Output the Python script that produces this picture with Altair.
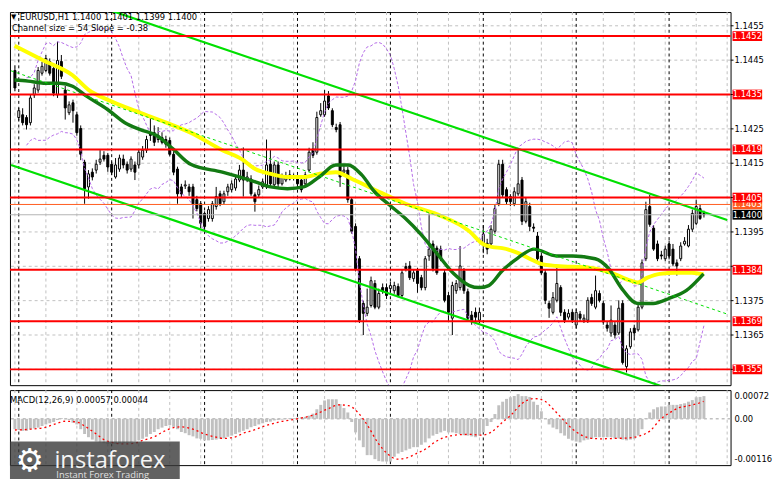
import altair as alt
import pandas as pd

# ---------------- data ----------------
open_ = [
1.14420,1.14283,1.14291,1.14283,1.14268,1.14349,1.14363,1.14412,1.14420,1.14446,
1.14426,1.14349,1.14446,1.14363,1.14297,1.14326,1.14291,1.14251,1.14153,1.14081,
1.14124,1.14130,1.14153,1.14173,1.14173,1.14147,1.14110,1.14133,1.14162,1.14147,
1.14133,1.14145,1.14145,1.14168,1.14188,1.14239,1.14239,1.14219,1.14225,1.14219,
1.14216,1.14176,1.14133,1.14081,1.14084,1.14081,1.14081,1.14044,1.14032,1.14004,
1.13989,1.13989,1.14024,1.14061,1.14038,1.14067,1.14073,1.14078,1.14101,1.14130,
1.14104,1.14104,1.14058,1.14058,1.14081,1.14081,1.14147,1.14087,1.14145,1.14090,
1.14101,1.14104,1.14110,1.14104,1.14101,1.14090,1.14130,1.14191,1.14182,1.14291,
1.14291,1.14346,1.14303,1.14254,1.14262,1.14124,1.14130,1.14044,1.13966,1.13872,
1.13742,1.13713,1.13736,1.13800,1.13731,1.13788,1.13788,1.13785,1.13779,1.13791,
1.13765,1.13849,1.13851,1.13814,1.13837,1.13817,1.13788,1.13880,1.13915,1.13903,
1.13900,1.13831,1.13765,1.13699,1.13779,1.13788,1.13837,1.13776,1.13708,1.13716,
1.13693,1.13915,1.13917,1.13915,1.13952,1.14032,1.14147,1.14073,1.14053,1.14032,
1.14061,1.14101,1.13981,1.14024,1.13964,1.13938,1.13880,1.13831,1.13742,1.13716,
1.13751,1.13788,1.13716,1.13702,1.13716,1.13679,1.13711,1.13693,1.13693,1.13759,
1.13731,1.13771,1.13742,1.13679,1.13656,1.13679,1.13656,1.13742,1.13558,1.13616,
1.13670,1.13665,1.13731,1.13872,1.14024,1.13961,1.13915,1.13883,1.13872,1.13915,
1.13900,1.13860,1.13872,1.13915,1.13909,1.13958,1.13975,1.14018,1.14004]
high = [
1.14435,1.14311,1.14310,1.14290,1.14350,1.14380,1.14430,1.14445,1.14465,1.14455,
1.14435,1.14504,1.14465,1.14375,1.14330,1.14335,1.14300,1.14260,1.14160,1.14130,
1.14135,1.14160,1.14188,1.14185,1.14180,1.14155,1.14165,1.14175,1.14175,1.14155,
1.14170,1.14155,1.14190,1.14200,1.14230,1.14283,1.14260,1.14255,1.14240,1.14230,
1.14225,1.14185,1.14140,1.14090,1.14100,1.14090,1.14090,1.14055,1.14040,1.14010,
1.14025,1.14040,1.14081,1.14070,1.14070,1.14090,1.14100,1.14115,1.14145,1.14196,
1.14125,1.14115,1.14065,1.14085,1.14105,1.14219,1.14191,1.14155,1.14155,1.14120,
1.14125,1.14130,1.14120,1.14115,1.14110,1.14125,1.14195,1.14211,1.14300,1.14325,
1.14363,1.14360,1.14310,1.14265,1.14270,1.14145,1.14140,1.14050,1.13975,1.13880,
1.13750,1.13785,1.13820,1.13810,1.13785,1.13800,1.13800,1.13805,1.13805,1.13800,
1.13840,1.13860,1.13865,1.13840,1.13845,1.13825,1.13880,1.14004,1.13925,1.13910,
1.13910,1.13840,1.13775,1.13805,1.13810,1.13909,1.13845,1.13785,1.13720,1.13730,
1.13730,1.13970,1.13930,1.13970,1.14030,1.14160,1.14160,1.14080,1.14060,1.14080,
1.14191,1.14110,1.14050,1.14035,1.13975,1.13950,1.13890,1.13840,1.13750,1.13775,
1.13851,1.13795,1.13725,1.13725,1.13725,1.13725,1.13720,1.13710,1.13760,1.13770,
1.13823,1.13780,1.13750,1.13690,1.13736,1.13690,1.13751,1.13751,1.13620,1.13670,
1.13680,1.13740,1.13870,1.14038,1.14058,1.13970,1.13925,1.13895,1.13910,1.13925,
1.13915,1.13870,1.13920,1.13935,1.13970,1.14015,1.14044,1.14030,1.14012]
low = [
1.14360,1.14274,1.14260,1.14248,1.14260,1.14340,1.14355,1.14405,1.14415,1.14405,
1.14345,1.14340,1.14395,1.14277,1.14290,1.14268,1.14230,1.14159,1.14032,1.14047,
1.14100,1.14120,1.14145,1.14155,1.14125,1.14115,1.14105,1.14125,1.14135,1.14120,
1.14125,1.14101,1.14135,1.14160,1.14180,1.14215,1.14200,1.14210,1.14205,1.14195,
1.14170,1.14115,1.14032,1.14050,1.14075,1.14055,1.13989,1.14010,1.13961,1.13955,
1.13980,1.13980,1.14015,1.14025,1.14030,1.14055,1.14065,1.14070,1.14095,1.14053,
1.14095,1.14055,1.14009,1.14050,1.14075,1.14075,1.14080,1.14080,1.14080,1.14085,
1.14095,1.14100,1.14100,1.14080,1.14065,1.14085,1.14125,1.14165,1.14175,1.14285,
1.14285,1.14305,1.14255,1.14240,1.14081,1.14115,1.14035,1.13945,1.13835,1.13685,
1.13650,1.13705,1.13730,1.13725,1.13725,1.13770,1.13755,1.13775,1.13770,1.13760,
1.13760,1.13835,1.13810,1.13805,1.13773,1.13780,1.13780,1.13866,1.13835,1.13825,
1.13865,1.13745,1.13688,1.13650,1.13770,1.13780,1.13770,1.13690,1.13680,1.13690,
1.13685,1.13888,1.13885,1.13905,1.13945,1.14025,1.14050,1.14030,1.14025,1.14025,
1.14055,1.13970,1.13975,1.13952,1.13950,1.13865,1.13825,1.13740,1.13700,1.13710,
1.13745,1.13705,1.13685,1.13695,1.13685,1.13670,1.13690,1.13685,1.13685,1.13735,
1.13725,1.13745,1.13680,1.13660,1.13645,1.13640,1.13650,1.13564,1.13541,1.13610,
1.13635,1.13660,1.13725,1.13865,1.13965,1.13895,1.13865,1.13870,1.13865,1.13870,
1.13850,1.13823,1.13865,1.13910,1.13905,1.13950,1.13970,1.13985,1.13992]
close = [
1.14369,1.14303,1.14268,1.14262,1.14340,1.14369,1.14420,1.14432,1.14455,1.14412,
1.14354,1.14449,1.14403,1.14311,1.14320,1.14303,1.14239,1.14176,1.14076,1.14119,
1.14110,1.14147,1.14162,1.14162,1.14139,1.14124,1.14145,1.14165,1.14145,1.14130,
1.14162,1.14124,1.14182,1.14188,1.14219,1.14231,1.14211,1.14231,1.14211,1.14205,
1.14176,1.14124,1.14061,1.14061,1.14087,1.14067,1.14032,1.14018,1.13975,1.13966,
1.14015,1.14032,1.14053,1.14032,1.14061,1.14081,1.14090,1.14104,1.14130,1.14101,
1.14110,1.14061,1.14038,1.14073,1.14096,1.14145,1.14090,1.14145,1.14090,1.14110,
1.14110,1.14116,1.14112,1.14090,1.14073,1.14116,1.14182,1.14173,1.14283,1.14303,
1.14331,1.14311,1.14262,1.14248,1.14110,1.14130,1.14044,1.13952,1.13843,1.13693,
1.13713,1.13731,1.13808,1.13731,1.13771,1.13779,1.13765,1.13794,1.13794,1.13765,
1.13831,1.13843,1.13817,1.13831,1.13800,1.13788,1.13872,1.13900,1.13843,1.13831,
1.13872,1.13751,1.13716,1.13794,1.13800,1.13851,1.13779,1.13699,1.13693,1.13702,
1.13716,1.13943,1.13900,1.13958,1.14018,1.14147,1.14058,1.14038,1.14038,1.14067,
1.14090,1.13981,1.14038,1.13966,1.13961,1.13872,1.13831,1.13751,1.13728,1.13759,
1.13800,1.13716,1.13693,1.13713,1.13693,1.13716,1.13699,1.13699,1.13751,1.13742,
1.13779,1.13751,1.13688,1.13670,1.13693,1.13650,1.13728,1.13570,1.13610,1.13659,
1.13656,1.13731,1.13860,1.14015,1.13972,1.13900,1.13872,1.13880,1.13900,1.13880,
1.13857,1.13851,1.13909,1.13923,1.13958,1.14004,1.14024,1.13989,1.14000]

macd_hist = [
-0.00026,-0.00028,-0.00030,-0.00030,-0.00026,-0.00024,-0.00022,-0.00018,-0.00014,-0.00011,
-0.00008,-0.00003,0.00002,-0.00001,-0.00003,-0.00010,-0.00014,-0.00026,-0.00038,-0.00046,
-0.00052,-0.00057,-0.00059,-0.00061,-0.00063,-0.00063,-0.00063,-0.00062,-0.00061,-0.00060,
-0.00059,-0.00057,-0.00054,-0.00050,-0.00045,-0.00038,-0.00033,-0.00026,-0.00022,-0.00018,
-0.00016,-0.00020,-0.00026,-0.00033,-0.00036,-0.00041,-0.00044,-0.00049,-0.00050,-0.00054,
-0.00054,-0.00053,-0.00052,-0.00050,-0.00049,-0.00045,-0.00042,-0.00038,-0.00034,-0.00030,
-0.00026,-0.00021,-0.00018,-0.00014,-0.00011,-0.00008,-0.00007,-0.00004,-0.00003,-0.00002,
0.00001,0.00002,0.00002,0.00003,0.00004,0.00005,0.00008,0.00013,0.00024,0.00035,
0.00046,0.00049,0.00049,0.00049,0.00037,0.00027,0.00016,-0.00008,-0.00034,-0.00054,
-0.00071,-0.00091,-0.00091,-0.00101,-0.00106,-0.00107,-0.00107,-0.00107,-0.00095,-0.00087,
-0.00083,-0.00079,-0.00075,-0.00071,-0.00071,-0.00065,-0.00059,-0.00049,-0.00042,-0.00038,
-0.00034,-0.00030,-0.00034,-0.00034,-0.00036,-0.00038,-0.00041,-0.00042,-0.00044,-0.00046,
-0.00042,-0.00034,-0.00018,-0.00008,0.00012,0.00034,0.00043,0.00050,0.00054,0.00057,
0.00062,0.00057,0.00057,0.00055,0.00043,0.00035,0.00019,0.00002,-0.00014,-0.00022,
-0.00026,-0.00036,-0.00042,-0.00050,-0.00054,-0.00057,-0.00059,-0.00054,-0.00052,-0.00050,
-0.00046,-0.00046,-0.00046,-0.00046,-0.00046,-0.00049,-0.00049,-0.00052,-0.00054,-0.00052,
-0.00050,-0.00042,-0.00026,0.00002,0.00016,0.00024,0.00029,0.00031,0.00031,0.00035,
0.00035,0.00035,0.00037,0.00039,0.00043,0.00047,0.00054,0.00055,0.00057]

signal_k = [0, 4, 7.5, 11, 13, 16, 18, 21, 23, 26, 28, 31, 33, 36, 38, 41, 43, 46, 49, 52,
            54, 57, 59, 61.5, 64.5, 68.7, 72.9, 77, 80.4, 83.7, 86.2, 88.7, 91.2, 93.7, 96.2,
            98.7, 101.2, 103.7, 106.2, 108.7, 111.2, 114.5, 117.9, 120.4, 122.9, 125.8, 128.3,
            130.8, 134.1, 136.6, 139.1, 141.6, 144.1, 146.6, 149.1, 151.6, 155, 158.3, 161.6,
            164.1, 166.6, 169.1, 171.6, 174.1, 176.6, 177.9]
signal = [-0.00028,-0.00026,-0.00022,-0.00011,-0.00006,-0.00008,-0.00018,-0.00038,-0.00052,-0.00061,
          -0.00063,-0.00061,-0.00054,-0.00045,-0.00034,-0.00022,-0.00020,-0.00026,-0.00038,-0.00046,
          -0.00049,-0.00045,-0.00036,-0.00029,-0.00018,-0.00007,0.00000,0.00009,0.00023,0.00035,
          0.00033,0.00015,-0.00018,-0.00059,-0.00087,-0.00101,-0.00098,-0.00087,-0.00075,-0.00057,
          -0.00046,-0.00040,-0.00039,-0.00041,-0.00034,-0.00010,0.00011,0.00037,0.00051,0.00046,
          0.00024,-0.00002,-0.00026,-0.00042,-0.00049,-0.00050,-0.00049,-0.00048,-0.00042,-0.00030,
          -0.00003,0.00015,0.00028,0.00033,0.00039,0.00044]

ma_yellow_k = [-0.1, 7.4, 14.9, 19.1, 24.1, 32.4, 39.1, 45.4, 53.6, 58.6, 62.1, 66.1, 70.4, 74.6,
               78.6, 82.9, 87.1, 92.9, 100.9, 109.1, 117.4, 120.9, 123.4, 125.9, 129.9, 134.1,
               135.9, 139.9, 148.4, 154.1, 159.1, 160.9, 163.4, 166.6, 170.9, 174.9, 177.9]
ma_yellow = [1.14492, 1.14449, 1.14406, 1.14363, 1.14334, 1.14297, 1.14268, 1.14239, 1.14188,
             1.14162, 1.14133, 1.14119, 1.14110, 1.14110, 1.14119, 1.14124, 1.14104, 1.14073,
             1.14032, 1.14001, 1.13952, 1.13915, 1.13906, 1.13903, 1.13889, 1.13866, 1.13857,
             1.13851, 1.13846, 1.13831, 1.13808, 1.13803, 1.13817, 1.13828, 1.13831, 1.13831,
             1.13826]
ma_green_k = [-0.1, 3.4, 7.4, 11.6, 14.9, 18.4, 24.1, 28.4, 32.4, 36.6, 40.9, 45.4, 53.6, 62.1,
              66.1, 70.4, 74.6, 78.6, 82.9, 86.1, 89.6, 92.9, 96.6, 100.9, 104.9, 109.1, 113.4,
              117.4, 119.9, 122.4, 125.9, 129.9, 134.1, 139.9, 144.1, 149.9, 153.4, 156.6, 160.9,
              164.9, 169.1, 173.4, 177.9]
ma_green = [1.14392, 1.14389, 1.14383, 1.14383, 1.14374, 1.14346, 1.14305, 1.14268, 1.14248,
            1.14231, 1.14191, 1.14147, 1.14124, 1.14096, 1.14081, 1.14076, 1.14081, 1.14110,
            1.14145, 1.14145, 1.14116, 1.14067, 1.14030, 1.13989, 1.13943, 1.13886, 1.13828,
            1.13794, 1.13788, 1.13794, 1.13837, 1.13874, 1.13900, 1.13880, 1.13880, 1.13872,
            1.13843, 1.13788, 1.13742, 1.13742, 1.13757, 1.13779, 1.13828]

channel_k = [-1, 184]
channel_upper = [1.14693, 1.13985]
channel_mid = [1.14419, 1.13711]
channel_lower = [1.14145, 1.13436]

levels = [1.1452, 1.1435, 1.1419, 1.1405, 1.1384, 1.1369, 1.1355]
ask_price = [1.1403]
bid_price = [1.1400]
tag_values = [1.1452, 1.1435, 1.1419, 1.1403, 1.1405, 1.1400, 1.1384, 1.1369, 1.1355]
tag_colors = ['#FF0000', '#FF0000', '#FF0000', '#FF5A1E', '#FF0000', '#000000',
              '#FF0000', '#FF0000', '#FF0000']

price_ticks = [1.1355, 1.1365, 1.1375, 1.1385, 1.1395, 1.1405, 1.1415, 1.1425,
               1.1435, 1.1445, 1.1455]
price_labels = [1.1365, 1.1375, 1.1395, 1.1415, 1.1425, 1.1445, 1.1455]   # the ones not under a tag
x_label_k = [0, 16, 32, 48, 64, 80, 96, 112, 128, 144, 160, 176]
x_labels = ['17 Jul 2026', '20 Jul 15:00', '21 Jul 07:00', '21 Jul 23:00', '22 Jul 15:00',
            '23 Jul 07:00', '23 Jul 23:00', '24 Jul 15:00', '27 Jul 07:00', '27 Jul 23:00',
            '28 Jul 15:00', '29 Jul 07:00']
grid_k = list(range(0, 185, 8))
day_k = [1, 25, 49, 73, 97, 121, 145, 169]
macd_tick_values = [0.00072, 0.0, -0.00116]
macd_tick_labels = ['0.00072', '0.00', '-0.00116']

header_text = 'EURUSD,H1  1.1400 1.1401 1.1399 1.1400'
channel_text = 'Channel size = 54 Slope = -0.38'
macd_text = 'MACD(12,26,9) 0.00057 0.00044'

# ---------------- layout / styles ----------------
W, HM, HD = 730, 378, 76
FONT = 'DejaVu Sans'
FS = 8.5
xs = alt.Scale(domain=[0, 183.6], nice=False, zero=False)
ys = alt.Scale(domain=[1.13504, 1.14590], nice=False, zero=False)
ms = alt.Scale(domain=[-0.00116, 0.00072], nice=False, zero=False)

bars = pd.DataFrame({'k': list(range(len(close))), 'o': open_, 'h': high,
                     'l': low, 'c': close, 'm': macd_hist})
bars['fill'] = ['white' if c >= o else 'black' for o, c in zip(open_, close)]


def X(f='k'):
    return alt.X(f'{f}:Q', scale=xs, axis=None)


def Y(f):
    return alt.Y(f'{f}:Q', scale=ys, axis=None)


def M(f):
    return alt.Y(f'{f}:Q', scale=ms, axis=None)


lab_arr = '[' + ','.join(f"'{s}'" for s in x_labels) + ']'
k_arr = '[' + ','.join(str(v) for v in x_label_k) + ']'
xax = alt.Axis(orient='bottom', values=x_label_k,
               labelExpr=f"{lab_arr}[indexof({k_arr}, datum.value)]",
               grid=False, domain=False, ticks=True, tickSize=4, tickColor='black',
               labelAlign='left', labelBaseline='top', labelFont=FONT, labelFontSize=FS,
               labelColor='black', labelPadding=1, labelOverlap=False, labelFlush=False,
               title=None)

one = pd.DataFrame({'a': [0]})

# ---------------- main panel ----------------
vgrid = alt.Chart(pd.DataFrame({'k': grid_k})).mark_rule(
    color='#C0C0C0', strokeDash=[3, 3], strokeWidth=1).encode(x=X())
days = alt.Chart(pd.DataFrame({'k': day_k})).mark_rule(
    color='black', strokeDash=[3, 3], strokeWidth=1).encode(x=X())

ptick = pd.DataFrame({'v': price_ticks})
plab = pd.DataFrame({'v': price_labels, 't': [f'{v:.4f}' for v in price_labels]})
hgrid = alt.Chart(ptick).mark_rule(color='#C0C0C0', strokeDash=[3, 3], strokeWidth=1).encode(y=Y('v'))
ptick_marks = alt.Chart(ptick).mark_rule(color='black', strokeWidth=1).encode(
    x=alt.value(W), x2=alt.value(W + 3), y=Y('v'))
ptick_text = alt.Chart(plab).mark_text(font=FONT, fontSize=FS, color='black', align='left',
                                       baseline='middle').encode(
    x=alt.value(W + 4), y=Y('v'), text='t:N')

bb = alt.Chart(bars).transform_window(
    bb_mid='mean(c)', bb_sd='stdev(c)', frame=[-19, 0], sort=[alt.SortField('k')]
).transform_calculate(
    bb_up='datum.bb_mid + 2 * datum.bb_sd', bb_dn='datum.bb_mid - 2 * datum.bb_sd'
).transform_filter('datum.k >= 3')
bb_up = bb.mark_line(color='#B46BE8', strokeDash=[3, 2], strokeWidth=1, clip=True).encode(
    x=X(), y=Y('bb_up'))
bb_dn = bb.mark_line(color='#B46BE8', strokeDash=[3, 2], strokeWidth=1, clip=True).encode(
    x=X(), y=Y('bb_dn'))

wick = alt.Chart(bars).mark_rule(color='black', strokeWidth=1, clip=True).encode(
    x=X(), y=Y('l'), y2='h:Q')
body = alt.Chart(bars).mark_bar(size=2, stroke='black', strokeWidth=1, clip=True).encode(
    x=X(), y=Y('o'), y2='c:Q', fill=alt.Fill('fill:N', scale=None))

yellow = alt.Chart(pd.DataFrame({'k': ma_yellow_k, 'v': ma_yellow})).mark_line(
    color='#FFFF00', strokeWidth=4, interpolate='monotone', clip=True).encode(x=X(), y=Y('v'))
green = alt.Chart(pd.DataFrame({'k': ma_green_k, 'v': ma_green})).mark_line(
    color='#137A13', strokeWidth=3.5, interpolate='monotone', clip=True).encode(x=X(), y=Y('v'))

chan = pd.DataFrame({'k': channel_k, 'up': channel_upper, 'mid': channel_mid, 'dn': channel_lower})
ch_up = alt.Chart(chan).mark_line(color='#00E000', strokeWidth=2.2, clip=True).encode(x=X(), y=Y('up'))
ch_dn = alt.Chart(chan).mark_line(color='#00E000', strokeWidth=2.2, clip=True).encode(x=X(), y=Y('dn'))
ch_mid = alt.Chart(chan).mark_line(color='#00E000', strokeWidth=1, strokeDash=[3, 3],
                                   clip=True).encode(x=X(), y=Y('mid'))

lv = alt.Chart(pd.DataFrame({'v': levels})).mark_rule(color='#FF0000', strokeWidth=2).encode(y=Y('v'))
ask = alt.Chart(pd.DataFrame({'v': ask_price})).mark_rule(color='#FF5A1E', strokeWidth=1).encode(y=Y('v'))
bid = alt.Chart(pd.DataFrame({'v': bid_price})).mark_rule(color='#B4B4B4', strokeWidth=1).encode(y=Y('v'))

tags = pd.DataFrame({'i': list(range(len(tag_values))), 'v': tag_values, 'col': tag_colors,
                     't': [f'{v:.4f}' for v in tag_values]})
tag_layers = []
for i in range(len(tag_values)):
    base = alt.Chart(tags).transform_filter(f'datum.i == {i}')
    tag_layers.append(base.mark_point(shape='M-1,-0.33L1,-0.33L1,0.33L-1,0.33Z', filled=True,
                                      size=900, opacity=1, strokeWidth=0).encode(
        x=alt.value(747), y=Y('v'), color=alt.Color('col:N', scale=None)))
    tag_layers.append(base.mark_text(color='white', font=FONT, fontSize=FS, align='center',
                                     baseline='middle').encode(
        x=alt.value(747), y=Y('v'), text='t:N'))

tri = alt.Chart(one).mark_text(text='▼', font=FONT, fontSize=7, color='black',
                               align='left', baseline='middle').encode(x=alt.value(1), y=alt.value(5))
hdr = alt.Chart(one).mark_text(text=header_text, font=FONT, fontSize=FS, color='black',
                               align='left', baseline='middle').encode(x=alt.value(10), y=alt.value(5))
chtxt = alt.Chart(one).mark_text(text=channel_text, font=FONT, fontSize=FS, color='black',
                                 align='left', baseline='middle').encode(x=alt.value(2), y=alt.value(16))

main = alt.layer(hgrid, vgrid, days, wick, body, bb_up, bb_dn, yellow, green, ch_mid, ch_up, ch_dn,
                 bid, ask, lv, ptick_marks, ptick_text, *tag_layers, tri, hdr, chtxt
                 ).properties(width=W, height=HM)

# ---------------- MACD panel ----------------
zero = alt.Chart(pd.DataFrame({'v': [0.0]})).mark_rule(
    color='#A0A0A0', strokeDash=[3, 3]).encode(y=M('v'))
hist = alt.Chart(bars).mark_bar(size=3, color='#C0C0C0').encode(
    x=alt.X('k:Q', scale=xs, axis=xax), y=M('m'), y2=alt.datum(0))
sig = alt.Chart(pd.DataFrame({'k': signal_k, 'v': signal})).mark_line(
    color='#FF0000', strokeDash=[2, 3], strokeWidth=1.3, interpolate='monotone').encode(
    x=X(), y=M('v'))
mtitle = alt.Chart(one).mark_text(text=macd_text, font=FONT, fontSize=FS, color='black',
                                  align='left', baseline='middle').encode(x=alt.value(0), y=alt.value(10))
mt = pd.DataFrame({'i': [0, 1, 2], 'v': macd_tick_values, 't': macd_tick_labels})
mlabels = []
for i, dy in zip([0, 1, 2], [6, 0, -6]):
    mlabels.append(alt.Chart(mt).transform_filter(f'datum.i == {i}').mark_text(
        font=FONT, fontSize=FS, color='black', align='left', baseline='middle', dy=dy).encode(
        x=alt.value(W + 4), y=M('v'), text='t:N'))

logo_box = alt.Chart(one).mark_rect(color='#3a3a3a', opacity=0.8).encode(
    x=alt.value(0), x2=alt.value(172), y=alt.value(52), y2=alt.value(90))
gear = alt.Chart(one).mark_text(text='⚙', font=FONT, fontSize=32, color='white',
                                align='center', baseline='middle').encode(x=alt.value(20), y=alt.value(72))
brand = alt.Chart(one).mark_text(text='instaforex', font='Open Sans', fontSize=24, color='#f4f4f4',
                                 align='left', baseline='alphabetic').encode(x=alt.value(45), y=alt.value(79))
tagline = alt.Chart(one).mark_text(text='Instant Forex Trading', font='Open Sans', fontSize=9.5,
                                   color='#e0e0e0', align='left', baseline='middle').encode(
    x=alt.value(47), y=alt.value(86))

macd = alt.layer(vgrid, days, zero, hist, sig, mtitle, *mlabels,
                 logo_box, gear, brand, tagline).properties(width=W, height=HD)

chart = alt.vconcat(main, macd, spacing=3).properties(
    padding=0, background='white'
).configure(font=FONT).configure_view(stroke='black', strokeWidth=1)

chart.save('out.html', embed_options={'renderer': 'svg', 'actions': False})
